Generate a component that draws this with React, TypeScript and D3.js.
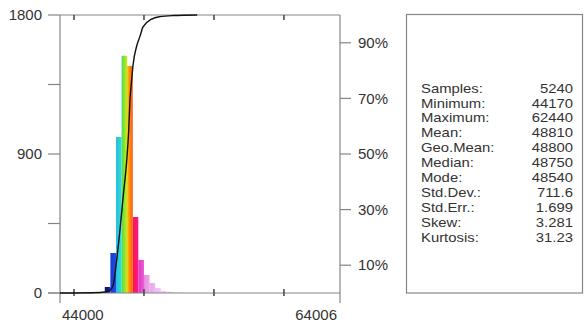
import React, { useEffect, useRef } from 'react';
import * as d3 from 'd3';

// histogram bins (lower edge, 400 wide) and counts
const binStarts = [46800, 47200, 47600, 48000, 48400, 48800, 49200, 49600, 50000, 50400, 50800, 51200, 51600, 52000, 52400];
const binCounts = [4, 39, 259, 1010, 1536, 1470, 492, 214, 117, 65, 32, 14, 8, 5, 3];
const binWidth = 400;

// cumulative curve (value, percent)
const cumValues = [44000, 46850, 47215, 47570, 47810, 48050, 48290, 48520, 48770, 48910, 49000, 49120, 49220, 49500, 49720, 49930, 50550, 51150, 52070, 53800];
const cumPercents = [0, 0.2, 0.4, 1, 3, 11.9, 23, 35, 47.8, 58.6, 69.4, 76.6, 82, 89.2, 92.4, 95.7, 98.5, 99.4, 99.8, 100];

const xTicks = [45000, 50000, 55000, 60000];
const yTicks = [0, 450, 900, 1350, 1800];
const yLabels = [0, 900, 1800];
const pctTicks = [10, 30, 50, 70, 90];

const statNames = ['Samples:', 'Minimum:', 'Maximum:', 'Mean:', 'Geo.Mean:', 'Median:', 'Mode:', 'Std.Dev.:', 'Std.Err.:', 'Skew:', 'Kurtosis:'];
const statValues = ['5240', '44170', '62440', '48810', '48800', '48750', '48540', '711.6', '1.699', '3.281', '31.23'];

// rainbow stops by value (style only)
const colorStops: [number, string][] = [
  [47200, '#0d0f78'], [47598, '#1222a8'],
  [47602, '#1838d2'], [47998, '#1f4ce6'],
  [48002, '#27bde8'], [48398, '#33dcc4'],
  [48402, '#4fdc48'], [48798, '#c4ee1c'],
  [48802, '#ffbe00'], [49198, '#ff5414'],
  [49202, '#ff1744'], [49598, '#f01a92'],
  [49602, '#e632c2'], [49998, '#e660d2'],
  [50002, '#e68ede'], [50400, '#e9a6e8'],
  [50800, '#ebb8ee'], [51200, '#eec8f2'], [52800, '#f0d8f5'],
];

const W = 584;
const H = 324;
const font = 'Liberation Sans, Arial, sans-serif';

export default function App() {
  const ref = useRef<SVGSVGElement>(null);

  useEffect(() => {
    const svg = d3.select(ref.current);
    svg.selectAll('*').remove();

    const left = 60, right = 340, top = 15, bottom = 293;
    const x = d3.scaleLinear().domain([44000, 64006]).range([left, right]);
    const y = d3.scaleLinear().domain([0, 1800]).range([bottom, top]);
    const yp = d3.scaleLinear().domain([0, 100]).range([bottom, top]);

    svg.append('rect').attr('width', W).attr('height', H).attr('fill', '#fff');

    // gradient across the bins
    const x0 = x(colorStops[0][0]);
    const x1 = x(colorStops[colorStops.length - 1][0]);
    const grad = svg.append('defs').append('linearGradient')
      .attr('id', 'rainbow')
      .attr('gradientUnits', 'userSpaceOnUse')
      .attr('x1', x0).attr('x2', x1).attr('y1', 0).attr('y2', 0);
    colorStops.forEach(([v, c]) => {
      grad.append('stop').attr('offset', (x(v) - x0) / (x1 - x0)).attr('stop-color', c);
    });

    // bars
    svg.append('g').selectAll('rect')
      .data(binStarts.map((s, i) => ({ s, c: binCounts[i] })))
      .enter().append('rect')
      .attr('x', d => x(d.s))
      .attr('width', d => x(d.s + binWidth) - x(d.s))
      .attr('y', d => y(d.c))
      .attr('height', d => y(0) - y(d.c))
      .attr('fill', 'url(#rainbow)');

    const axisColor = '#858585';
    const textColor = '#333';

    // frame lines
    svg.append('line').attr('x1', left).attr('x2', right).attr('y1', top).attr('y2', top)
      .attr('stroke', axisColor).attr('stroke-width', 1.2);
    svg.append('line').attr('x1', left - 12).attr('x2', right).attr('y1', bottom).attr('y2', bottom)
      .attr('stroke', axisColor).attr('stroke-width', 1.2);
    svg.append('line').attr('x1', left).attr('x2', left).attr('y1', top).attr('y2', bottom + 10)
      .attr('stroke', axisColor).attr('stroke-width', 1.2);
    svg.append('line').attr('x1', right).attr('x2', right).attr('y1', top).attr('y2', bottom + 10)
      .attr('stroke', axisColor).attr('stroke-width', 1.2);

    // left ticks
    yTicks.forEach(t => {
      svg.append('line').attr('x1', left - 12).attr('x2', left).attr('y1', y(t)).attr('y2', y(t))
        .attr('stroke', axisColor).attr('stroke-width', 1.2);
    });
    yLabels.forEach(t => {
      svg.append('text').attr('x', 42).attr('y', y(t)).attr('dy', '0.35em')
        .attr('text-anchor', 'end').attr('font-family', font).attr('font-size', 15)
        .attr('fill', textColor).text(t);
    });

    // right ticks
    pctTicks.forEach(t => {
      svg.append('line').attr('x1', right).attr('x2', right + 11).attr('y1', yp(t)).attr('y2', yp(t))
        .attr('stroke', axisColor).attr('stroke-width', 1.2);
      svg.append('text').attr('x', 358).attr('y', yp(t)).attr('dy', '0.35em')
        .attr('font-family', font).attr('font-size', 15)
        .attr('fill', textColor).text(`${t}%`);
    });

    // x ticks top and bottom
    xTicks.forEach(t => {
      svg.append('line').attr('x1', x(t)).attr('x2', x(t)).attr('y1', top).attr('y2', top + 5)
        .attr('stroke', '#444').attr('stroke-width', 1.5);
      svg.append('line').attr('x1', x(t)).attr('x2', x(t)).attr('y1', bottom - 4).attr('y2', bottom + 3)
        .attr('stroke', '#444').attr('stroke-width', 1.5);
    });
    svg.append('text').attr('x', 62).attr('y', 320)
      .attr('font-family', font).attr('font-size', 15).attr('fill', textColor).text('44000');
    svg.append('text').attr('x', 337).attr('y', 320).attr('text-anchor', 'end')
      .attr('font-family', font).attr('font-size', 15).attr('fill', textColor).text('64006');

    // cumulative curve
    const line = d3.line<number>()
      .x((_, i) => x(cumValues[i]))
      .y(d => yp(d))
      .curve(d3.curveMonotoneX);
    svg.append('path').attr('d', line(cumPercents))
      .attr('fill', 'none').attr('stroke', '#111').attr('stroke-width', 1.4);

    // stats box
    svg.append('rect').attr('x', 406.5).attr('y', 14.5).attr('width', 176).attr('height', 278.5)
      .attr('fill', 'none').attr('stroke', axisColor).attr('stroke-width', 1.2);
    // tight rows: smaller font stretched sideways to keep the reference widths
    statNames.forEach((n, i) => {
      const yy = 88 + i * 14.9;
      svg.append('g').attr('transform', `translate(421,${yy}) scale(1.16,1)`)
        .append('text').attr('dy', '0.36em')
        .attr('font-family', font).attr('font-size', 12.8).attr('fill', textColor).text(n);
      svg.append('g').attr('transform', `translate(573,${yy}) scale(1.16,1)`)
        .append('text').attr('dy', '0.36em').attr('text-anchor', 'end')
        .attr('font-family', font).attr('font-size', 12.8).attr('fill', textColor).text(statValues[i]);
    });
  }, []);

  return (
    <svg ref={ref} width={W} height={H} style={{ position: 'absolute', left: 0, top: 0 }} />
  );
}
